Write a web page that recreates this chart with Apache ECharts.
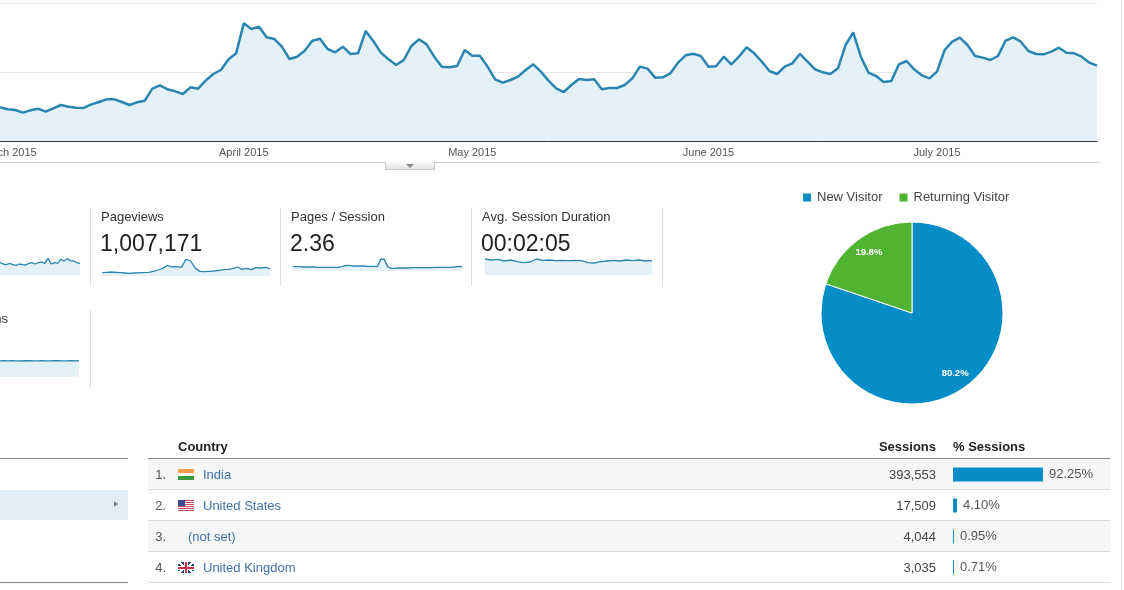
<!DOCTYPE html>
<html lang="en">
<head>
<meta charset="UTF-8">
<title>Audience Overview</title>
<script src="https://cdn.jsdelivr.net/npm/echarts@6.0.0/dist/echarts.min.js"></script>
<style>
  body { margin: 0; width: 1124px; height: 590px; overflow: hidden; background: #fff;
         font-family: Arial, "Liberation Sans", sans-serif; position: relative; }
  .abs { position: absolute; white-space: nowrap; }
  #main { position: absolute; left: 0; top: 0; width: 1124px; height: 590px; z-index: 1; }
  .txt { z-index: 2; }
  .stripe { position: absolute; left: 148px; width: 962px; height: 30px; background: #f6f6f6; z-index: 0; }
  .mlabel { font-size: 13px; line-height: 15px; color: #333; }
  .mvalue { font-size: 23px; line-height: 26px; color: #222; }
  .cell { font-size: 13px; line-height: 31px; }
  .flag { position: absolute; width: 16px; height: 11px; z-index: 2; }
  .f-in { background: linear-gradient(#f7a048 0 34%, #fafafa 34% 66%, #3a9a3a 66%); }
  .f-us { background: linear-gradient(#3c4b8e, #3c4b8e) 0 0 / 7px 6px no-repeat,
          repeating-linear-gradient(#c8485a 0 1px, #fff 1px 2px); }
  .f-uk { background:
          linear-gradient(90deg, transparent 7px, #c8304a 7px 9px, transparent 9px),
          linear-gradient(transparent 4.5px, #c8304a 4.5px 6.5px, transparent 6.5px),
          linear-gradient(90deg, transparent 6px, #fff 6px 10px, transparent 10px),
          linear-gradient(transparent 3.5px, #fff 3.5px 7.5px, transparent 7.5px),
          linear-gradient(34deg, transparent 44%, #fff 44% 56%, transparent 56%),
          linear-gradient(-34deg, transparent 44%, #fff 44% 56%, transparent 56%),
          #2a3f7e; }
</style>
</head>
<body>

<div id="main"></div>
<div id="page"></div>

<script type="text/javascript">

  // daily sessions, 28 Feb 2015 .. 22 Jul 2015
  var startDate = Date.UTC(2015, 1, 28);
  var sessions = [
    976, 918, 899, 821, 889, 937, 850, 947, 1043, 995,
    966, 957, 1063, 1130, 1208, 1208, 1130, 1043, 1121, 1169,
    1517, 1614, 1498, 1440, 1362, 1556, 1517, 1749, 1942, 2058,
    2367, 2541, 3411, 3246, 3314, 3005, 2957, 2734, 2377, 2444,
    2618, 2908, 2966, 2667, 2570, 2734, 2522, 2541, 3188, 2899,
    2560, 2367, 2203, 2348, 2754, 2947, 2802, 2444, 2155, 2135,
    2174, 2638, 2473, 2473, 2155, 1787, 1691, 1768, 1865, 2058,
    2222, 2010, 1749, 1527, 1420, 1623, 1797, 1768, 1787, 1498,
    1536, 1536, 1623, 1816, 2155, 2097, 1836, 1845, 1961, 2271,
    2483, 2531, 2464, 2155, 2164, 2444, 2222, 2444, 2715, 2541,
    2300, 2029, 1942, 2155, 2251, 2522, 2300, 2077, 1990, 1942,
    2106, 2783, 3150, 2444, 1981, 1884, 1710, 1739, 2222, 2319,
    2077, 1903, 1816, 2010, 2638, 2879, 2995, 2783, 2464, 2416,
    2348, 2464, 2908, 3005, 2879, 2609, 2522, 2512, 2589, 2705,
    2560, 2541, 2444, 2271, 2184
  ];
  var tickDates = ['2015-03-01', '2015-04-01', '2015-05-01', '2015-06-01', '2015-07-01'];
  var tickLabels = ['March 2015', 'April 2015', 'May 2015', 'June 2015', 'July 2015'];

  // sparklines (visible part of each)
  var usersSpark = [2727, 2540, 2447, 2633, 2447, 2353, 2540, 2447, 2400, 2633, 2727, 2540, 2727,
    2820, 2633, 3333, 2540, 2727, 2633, 3193, 2960, 3287, 3007, 2960, 2727, 2633];
  var pageviewsSpark = [5667, 5833, 6000, 5833, 5667, 5500, 5333, 5500, 5667, 5667, 5833, 6333,
    7000, 7833, 9333, 8500, 8667, 8333, 12333, 11500, 7833, 6333, 6167, 6333, 6500, 6833, 7167,
    7333, 7667, 8500, 7333, 7833, 7167, 8167, 8000, 8333, 7667];
  var pagesSessionSpark = [2.35, 2.35, 2.35, 2.32, 2.32, 2.32, 2.32, 2.29, 2.29, 2.29, 2.29, 2.29,
    2.29, 2.29, 2.32, 2.40, 2.45, 2.43, 2.40, 2.40, 2.40, 2.40, 2.37, 2.37, 2.37, 2.35, 2.96, 2.93,
    2.35, 2.21, 2.21, 2.24, 2.24, 2.24, 2.24, 2.27, 2.27, 2.27, 2.27, 2.27, 2.27, 2.27, 2.29, 2.29,
    2.29, 2.29, 2.29, 2.29, 2.32, 2.37, 2.35];
  var durationSpark = [130, 125, 128, 120, 125, 117, 112, 115, 130, 123, 125, 122, 123, 122, 123,
    122, 112, 110, 117, 120, 123, 120, 125, 122, 125, 120, 122];
  var newSessionsSpark = [80.2, 80.4, 80.1, 80.3, 80.2, 80.0, 80.3, 80.4, 80.2, 80.1, 80.3, 80.2,
    80.2, 80.4, 80.3, 80.1, 80.2, 80.3, 80.2, 80.4];

  // metric boxes
  var metricNames = ['Pageviews', 'Pages / Session', 'Avg. Session Duration'];
  var metricValues = ['1,007,171', '2.36', '00:02:05'];

  // visitor type pie
  var visitorTypes = ['New Visitor', 'Returning Visitor'];
  var visitorShare = [80.2, 19.8];

  // country table
  var countries = ['India', 'United States', '(not set)', 'United Kingdom'];
  var flags = ['f-in', 'f-us', '', 'f-uk'];
  var countrySessions = [393553, 17509, 4044, 3035];
  var countryPercent = [92.25, 4.10, 0.95, 0.71];

  var lineColor = '#2a86b0';
  var fillColor = '#e5f1f8';

  var dates = sessions.map(function (v, i) {
    return new Date(startDate + i * 86400000).toISOString().slice(0, 10);
  });

  // ---------- html text and rules ----------
  var html = '';
  function box(x, y, w, h, style) {
    html += '<div class="abs" style="left:' + x + 'px;top:' + y + 'px;width:' + w + 'px;height:' + h + 'px;' + style + '"></div>';
  }

  box(0, 162, 1100, 1, 'background:#ccc;');
  box(385, 162, 48, 7, 'background:linear-gradient(#fafafa,#e4e4e4);border:1px solid #c8c8c8;border-top:none;');
  html += '<div class="abs" style="left:406px;top:164px;width:0;height:0;border-left:4px solid transparent;border-right:4px solid transparent;border-top:4px solid #888;"></div>';
  box(1121, 0, 1, 590, 'background:#e4e4e4;');

  [90, 280, 471, 662].forEach(function (x) { box(x, 208, 1, 78, 'background:#ddd;'); });
  box(90, 310, 1, 78, 'background:#ddd;');

  var metricX = [101, 291, 482];
  metricNames.forEach(function (name, i) {
    html += '<div class="abs txt mlabel" style="left:' + metricX[i] + 'px;top:209px;">' + name + '</div>';
    html += '<div class="abs txt mvalue" style="left:' + (metricX[i] - 1) + 'px;top:230px;">' + metricValues[i] + '</div>';
  });
  html += '<div class="abs txt mlabel" style="right:1116px;top:311px;">% New Sessions</div>';

  // left panel
  box(0, 458, 128, 1, 'background:#888;');
  box(0, 490, 128, 30, 'background:#e1eef8;');
  html += '<div class="abs" style="left:114px;top:501px;width:0;height:0;border-top:3.5px solid transparent;border-bottom:3.5px solid transparent;border-left:4px solid #777;"></div>';
  box(0, 582, 128, 1, 'background:#888;');

  // table
  html += '<div class="abs txt" style="left:178px;top:438px;font-size:13px;line-height:18px;font-weight:bold;color:#222;">Country</div>';
  html += '<div class="abs txt" style="right:188px;top:438px;font-size:13px;line-height:18px;font-weight:bold;color:#222;">Sessions</div>';
  html += '<div class="abs txt" style="left:953px;top:438px;font-size:13px;line-height:18px;font-weight:bold;color:#222;">% Sessions</div>';
  box(148, 458, 962, 1, 'background:#888;');
  countries.forEach(function (name, i) {
    var top = 459 + i * 31;
    if (i % 2 === 0) html += '<div class="stripe" style="top:' + top + 'px;"></div>';
    box(148, top + 30, 962, 1, 'background:#ddd;');
    html += '<div class="abs txt cell" style="right:958px;top:' + top + 'px;color:#555;">' + (i + 1) + '.</div>';
    if (flags[i]) html += '<div class="flag ' + flags[i] + '" style="left:178px;top:' + (top + 10) + 'px;"></div>';
    html += '<div class="abs txt cell" style="left:' + (flags[i] ? 203 : 188) + 'px;top:' + top + 'px;color:#3e72aa;">' + name + '</div>';
    html += '<div class="abs txt cell" style="right:188px;top:' + top + 'px;color:#444;">' + countrySessions[i].toLocaleString('en-US') + '</div>';
  });

  document.getElementById('page').innerHTML = html;

  // ---------- charts ----------
  var myChart = echarts.init(document.getElementById('main'));
  var font = 'Arial, "Liberation Sans", sans-serif';

  function sparkGrid(left, top, width, height) {
    return { left: left, top: top, width: width, height: height, outerBoundsMode: 'none' };
  }
  function sparkX(idx, data) {
    return { gridIndex: idx, type: 'category', boundaryGap: false, show: false, data: data.map(function (v, i) { return i; }) };
  }
  function sparkY(idx, min, max) {
    return { gridIndex: idx, type: 'value', min: min, max: max, show: false, splitLine: { show: false } };
  }
  function sparkSeries(idx, data) {
    return {
      type: 'line', xAxisIndex: idx, yAxisIndex: idx, data: data, symbol: 'none', silent: true,
      lineStyle: { color: lineColor, width: 1.3 }, itemStyle: { color: lineColor },
      areaStyle: { color: fillColor, opacity: 1 }
    };
  }

  var option = {
    animation: false,
    textStyle: { fontFamily: font },
    grid: [
      { left: 0, top: 3, width: 1097, height: 138, outerBoundsMode: 'none' },
      sparkGrid(0, 257, 80, 18),
      sparkGrid(102, 257, 168, 19),
      sparkGrid(293, 257, 169, 14),
      sparkGrid(485, 257, 167, 18),
      sparkGrid(0, 358, 79, 19),
      { left: 953, top: 459, width: 97.5, height: 124, outerBoundsMode: 'none' }
    ],
    legend: {
      data: visitorTypes, left: 801, top: 191, padding: 0, icon: 'rect',
      itemWidth: 10, itemHeight: 10, itemGap: 15,
      textStyle: { fontSize: 13, color: '#444', fontFamily: font }
    },
    xAxis: [
      {
        gridIndex: 0, type: 'category', data: dates, boundaryGap: false,
        axisLine: { lineStyle: { color: '#333', width: 1 } },
        axisTick: { show: false },
        axisLabel: {
          interval: function (i, v) { return tickDates.indexOf(v) >= 0; },
          formatter: function (v) { return tickLabels[tickDates.indexOf(v)]; },
          fontSize: 11, color: '#555', margin: 6, fontFamily: font
        },
        splitLine: { show: false }
      },
      sparkX(1, usersSpark),
      sparkX(2, pageviewsSpark),
      sparkX(3, pagesSessionSpark),
      sparkX(4, durationSpark),
      sparkX(5, newSessionsSpark),
      { gridIndex: 6, type: 'value', min: 0, max: 100, show: false, splitLine: { show: false } }
    ],
    yAxis: [
      {
        gridIndex: 0, type: 'value', min: 0, max: 4000, interval: 2000,
        axisLabel: { show: false }, axisLine: { show: false }, axisTick: { show: false },
        splitLine: { lineStyle: { color: '#e6e6e6' } }
      },
      sparkY(1, 1000, 3520),
      sparkY(2, 4000, 13500),
      sparkY(3, 2.0, 3.12),
      sparkY(4, 50, 140),
      sparkY(5, 60, 83.75),
      { gridIndex: 6, type: 'category', data: countries, inverse: true, show: false }
    ],
    series: [
      {
        name: 'Sessions', type: 'line', xAxisIndex: 0, yAxisIndex: 0, data: sessions,
        symbol: 'none', lineStyle: { color: lineColor, width: 2.5 }, itemStyle: { color: lineColor },
        areaStyle: { color: fillColor, opacity: 1 }
      },
      sparkSeries(1, usersSpark),
      sparkSeries(2, pageviewsSpark),
      sparkSeries(3, pagesSessionSpark),
      sparkSeries(4, durationSpark),
      sparkSeries(5, newSessionsSpark),
      {
        type: 'bar', xAxisIndex: 6, yAxisIndex: 6, data: countryPercent, barWidth: 14, barMinHeight: 1,
        itemStyle: { color: '#058dc7' }, silent: true,
        label: {
          show: true, position: 'right', distance: 6, color: '#555', fontSize: 13, fontFamily: font,
          formatter: function (p) { return p.value.toFixed(2) + '%'; }
        }
      },
      {
        name: 'Visitor Type', type: 'pie', center: [912, 313], radius: 91, startAngle: 90,
        label: { show: false }, labelLine: { show: false },
        itemStyle: { borderColor: '#fff', borderWidth: 1 },
        data: visitorTypes.map(function (n, i) {
          return { name: n, value: visitorShare[i], itemStyle: { color: ['#058dc7', '#50b432'][i] } };
        })
      },
      {
        type: 'pie', center: [912, 313], radius: [51, 91], startAngle: 90, silent: true,
        legendHoverLink: false, itemStyle: { color: 'transparent', borderWidth: 0 },
        labelLine: { show: false },
        label: {
          show: true, position: 'inside', color: '#fff', fontSize: 9.5, fontWeight: 'bold', fontFamily: font,
          formatter: function (p) { return p.value.toFixed(1) + '%'; }
        },
        data: visitorTypes.map(function (n, i) { return { name: n, value: visitorShare[i] }; })
      }
    ]
  };

  myChart.setOption(option);

</script>
</body>
</html>
